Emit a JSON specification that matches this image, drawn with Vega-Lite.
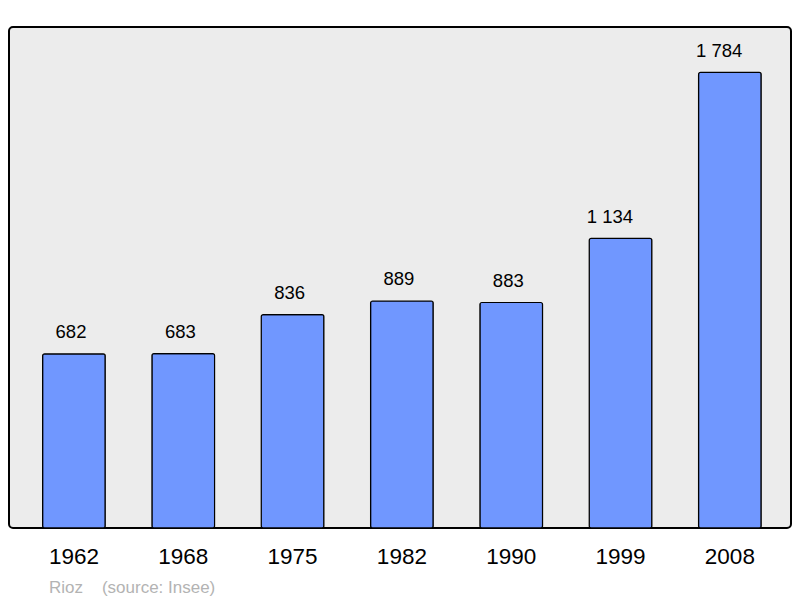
{
  "$schema": "https://vega.github.io/schema/vega-lite/v6.json",
  "width": 782,
  "height": 501,
  "autosize": "none",
  "padding": {"left": 9, "top": 27, "right": 9, "bottom": 70},
  "background": "white",
  "config": {
    "view": {"fill": "#ececec", "stroke": "#000000", "strokeWidth": 2, "cornerRadius": 4},
    "font": "Liberation Sans"
  },
  "title": {
    "text": "Rioz\u00a0\u00a0\u00a0\u00a0(source: Insee)",
    "orient": "bottom",
    "anchor": "start",
    "color": "#b3b3b3",
    "fontSize": 17,
    "font": "Liberation Sans",
    "fontWeight": "normal",
    "offset": 12,
    "dx": 40
  },
  "data": {
    "values": [
      {"year": "1962", "pop": 682, "label": "682"},
      {"year": "1968", "pop": 683, "label": "683"},
      {"year": "1975", "pop": 836, "label": "836"},
      {"year": "1982", "pop": 889, "label": "889"},
      {"year": "1990", "pop": 883, "label": "883"},
      {"year": "1999", "pop": 1134, "label": "1 134"},
      {"year": "2008", "pop": 1784, "label": "1 784"}
    ]
  },
  "encoding": {
    "x": {
      "field": "year",
      "type": "nominal",
      "scale": {"paddingInner": 0.427, "paddingOuter": 0.29, "align": 0.53},
      "axis": {
        "title": null,
        "labelAngle": 0,
        "ticks": false,
        "domain": false,
        "labelFontSize": 22.5,
        "labelColor": "#000000",
        "labelPadding": 17,
        "labelFont": "Liberation Sans"
      }
    },
    "y": {
      "field": "pop",
      "type": "quantitative",
      "scale": {"domain": [0, 1962], "nice": false},
      "axis": null
    }
  },
  "layer": [
    {
      "mark": {"type": "bar", "fill": "#7097ff", "stroke": "#000000", "strokeWidth": 1.2, "cornerRadius": 2}
    },
    {
      "mark": {"type": "text", "baseline": "alphabetic", "align": "right", "dx": 12.5, "dy": -15.5, "fontSize": 18.5, "color": "#000000", "font": "Liberation Sans"},
      "encoding": {"text": {"field": "label"}}
    }
  ]
}
